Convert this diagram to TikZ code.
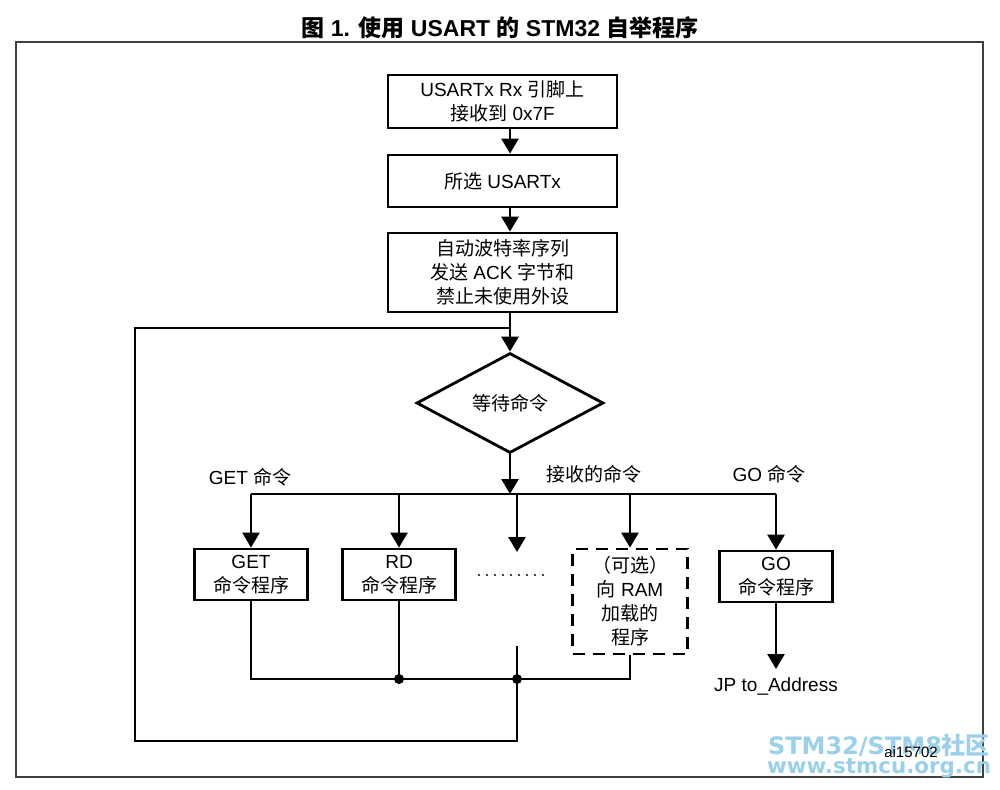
\documentclass[tikz,border=0pt]{standalone}
\usepackage{fontspec}
\setmainfont{Liberation Sans}
\newfontfamily\cjk{Noto Sans CJK SC}
\newfontfamily\wmfont{DejaVu Sans}
\usetikzlibrary{arrows.meta,shapes.geometric,positioning}
\definecolor{wmblue}{RGB}{155,208,236}
\newcommand{\zh}[1]{{\cjk #1}}

\begin{document}
\begin{tikzpicture}[x=0.5pt, y=-0.5pt,
    font=\fontsize{9.5}{12}\selectfont,
    box/.style={draw, line width=1.4pt, align=center, inner sep=0pt},
    link/.style={line width=1.3pt},
    arr/.style={link, -{Triangle[length=7.5pt,width=8.5pt]}},
    dot/.style={circle, fill, inner sep=0pt, minimum size=5pt}]
    \useasboundingbox (0,0) rectangle (1000,789);

    % Title and frame
    \node[font=\bfseries\fontsize{11.5}{13}\selectfont] (title) at (500,28)
      {\zh{图} 1. \zh{使用} USART \zh{的} STM32 \zh{自举程序}};
    \draw[line width=0.8pt, black!75] (16,42) rectangle (983,777);

    % Nodes
    \node[box, minimum width=114.5pt, minimum height=26.5pt] (rx) at (502.5,101.5)
      {USARTx Rx \zh{引脚上}\\\zh{接收到} 0x7F};
    \node[box, minimum width=114.5pt, minimum height=26pt] (sel) at (502.5,181)
      {\zh{所选} USARTx};
    \node[box, minimum width=114.5pt, minimum height=39.5pt] (auto) at (502.5,272.5)
      {\zh{自动波特率序列}\\\zh{发送} ACK \zh{字节和}\\\zh{禁止未使用外设}};
    \node[draw, diamond, aspect=1.9, line width=1.4pt, minimum width=93.5pt,
      minimum height=50pt, inner sep=0pt] (wait) at (510,403) {\zh{等待命令}};

    \foreach \name/\x/\y/\cmd in {get/251/574.5/GET, rd/399/574.5/RD, go/776/576.5/GO}
    \node[box, minimum width=56.5pt, minimum height=25.5pt] (\name) at (\x,\y)
      {\cmd\\\zh{命令程序}};
    \node[box, dashed, dash pattern=on 6pt off 4pt, minimum width=57.5pt,
      minimum height=52.5pt] (ram) at (630,601.5)
      {\zh{（可选）}\\\zh{向} RAM\\\zh{加载的}\\\zh{程序}};
    \node[anchor=north, inner sep=4pt] (jp) at (776,669) {JP to\_Address};

    \node (getlbl) at (250,477) {GET \zh{命令}};
    \node (rcvlbl) at (594,474) {\zh{接收的命令}};
    \node (golbl) at (769,474) {GO \zh{命令}};

    \coordinate (bus) at (510,494);
    \coordinate (join) at (0,679);
    \coordinate (dots) at (517,552);
    \coordinate (back) at (517,646);
    \coordinate (corner) at (135,741);
    \coordinate (loop) at (510,328);

    % Edges
    \draw[arr] (rx.south -| bus) -- (sel.north -| bus);
    \draw[arr] (sel.south -| bus) -- (auto.north -| bus);
    \draw[arr] (auto.south -| bus) -- (wait.north);
    \draw[arr] (wait.south) -- (bus);
    \draw[link] (get |- bus) -- (go |- bus);
    \foreach \n in {get, rd, ram, go}
    \draw[arr] (\n |- bus) -- (\n.north);
    \draw[arr] (dots |- bus) -- (dots);
    \foreach \k in {0,...,8}
    \fill (479+8*\k,575) circle (0.6pt);
    \draw[arr] (go.south) -- (jp.north);

    % Return path
    \draw[link] (get.south) -- (get |- join) -- (ram |- join) -- (ram.south);
    \draw[link] (rd.south) -- (rd |- join);
    \draw[link] (back) -- (back |- corner) -- (corner) -- (corner |- loop) -- (loop);
    \node[dot] at (rd |- join) {};
    \node[dot] at (back |- join) {};

    % Marks
    \node[wmblue, font=\wmfont\bfseries\fontsize{12}{12}\selectfont] (wm) at (879,745)
      {STM32/STM8\zh{社区}};
    \node[wmblue, font=\wmfont\bfseries\fontsize{10.7}{11}\selectfont] (url) at (879,768)
      {www.stmcu.org.cn};
    \node[font=\fontsize{7.5}{8}\selectfont] (ref) at (911,752) {ai15702};
\end{tikzpicture}
\end{document}
